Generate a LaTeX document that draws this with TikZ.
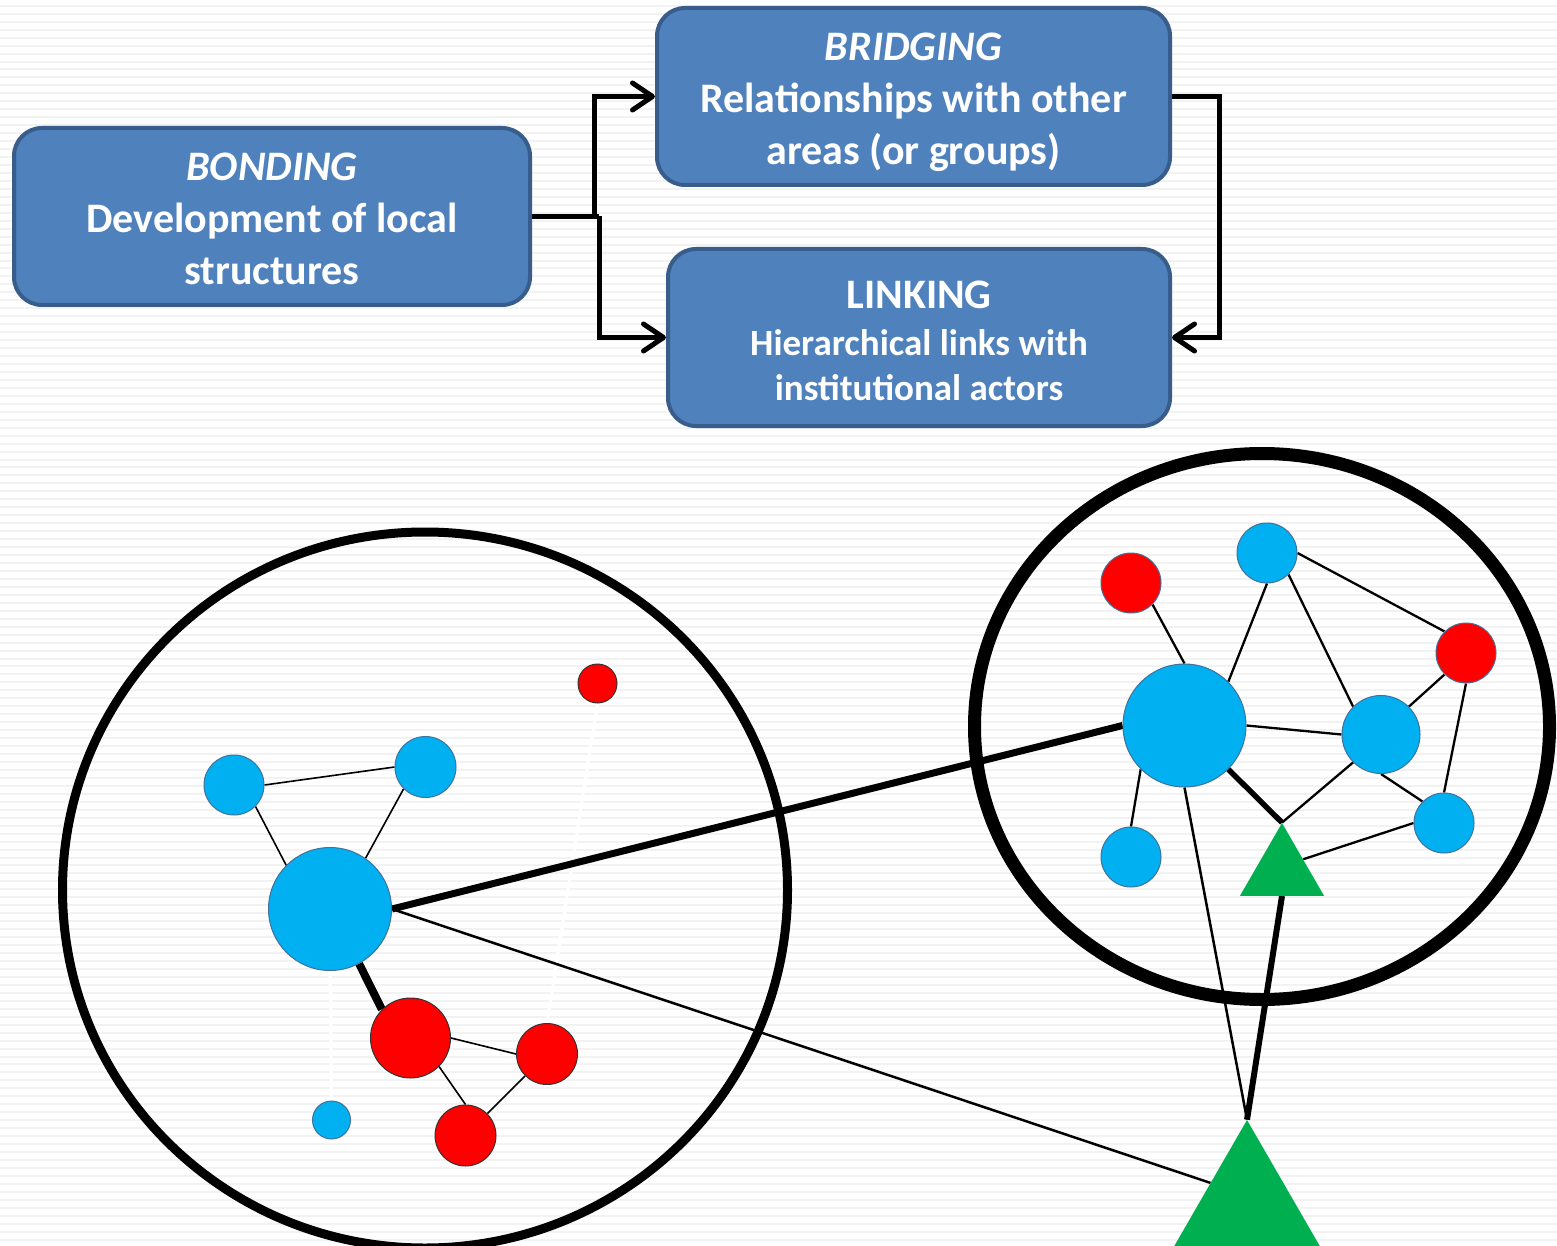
\documentclass[tikz,border=0pt]{standalone}
\usepackage{fontspec}
\setmainfont{Carlito}
\usetikzlibrary{arrows.meta,shapes.geometric}
\definecolor{boxfill}{HTML}{4F81BD}
\definecolor{boxline}{HTML}{385D8A}
\definecolor{dotblue}{HTML}{00B0F0}
\definecolor{dotedge}{HTML}{41719C}
\definecolor{dotred}{HTML}{FF0000}
\definecolor{leaf}{HTML}{00B050}
\definecolor{ruling}{HTML}{F2F2F2}
\pgfdeclarelayer{back}
\pgfsetlayers{back,main}

\begin{document}
\begin{tikzpicture}[x=1pt,y=-1pt,
  panel/.style={draw=boxline, fill=boxfill, line width=4pt, rounded corners=28pt,
    inner sep=0pt, minimum height=177pt},
  paneltext/.style={text=white, align=center, inner sep=0pt,
    font=\bfseries\fontsize{42}{52}\selectfont},
  flow/.style={line width=5pt, -{Straight Barb[length=20pt,width=27pt,line cap=round,line join=round]}},
  bluedot/.style={circle, inner sep=0pt, fill=dotblue, draw=dotedge, line width=1pt},
  reddot/.style={circle, inner sep=0pt, fill=dotred, draw=black!80, line width=1pt},
  reddotb/.style={circle, inner sep=0pt, fill=dotred, draw=dotedge, line width=1pt},
  actor/.style={regular polygon, regular polygon sides=3, inner sep=0pt, fill=leaf, draw=none},
  tie/.style={line width=1.6pt},
  rtie/.style={line width=2.3pt},
  hidden/.style={line width=3pt, white},
  group/.style={draw=black},
]
\useasboundingbox (0,0) rectangle (1557,1246);
\begin{pgfonlayer}{back}
  \fill[white] (0,0) rectangle (1557,1246);
  % ruled paper
  \foreach \k in {0,...,157}
    \fill[ruling] (0,{4.8+7.96*\k}) rectangle (1557,{6.8+7.96*\k});
\end{pgfonlayer}

% ---------- the three forms of social capital ----------
\node[panel, minimum width=516pt] (bond) at (272,216.5) {};
\node[panel, minimum width=513pt] (bridge) at (913.5,96.5) {};
\node[panel, minimum width=502pt] (link) at (919,337.5) {};
\node[paneltext] (bondtext) at ([yshift=-2pt]bond.center)
  {\textit{BONDING}\\Development of local\\structures};
\node[paneltext] (bridgetext) at ([yshift=-5.5pt]bridge.center)
  {\textit{BRIDGING}\\Relationships with other\\areas (or groups)};
\node[paneltext, font=\bfseries\fontsize{37}{45}\selectfont] (linktext)
  at ([yshift=-3pt]link.center)
  {{\fontsize{42}{45}\selectfont LINKING}\\[2pt]Hierarchical links with\\institutional actors};

\coordinate (forkA) at (594,216.5);
\coordinate (forkB) at (599,216.5);
\coordinate (bendR) at (1219,216.5);
\draw[line width=5pt] (bond.east) -- (forkB);
\draw[flow] (bond.east) -- (forkA) |- (bridge.west);
\draw[flow] (forkB) |- (link.west);
\draw[flow] (bridge.east) -| (bendR) |- (link.east);

% ---------- local group (left) ----------
\node[bluedot, minimum size=123pt] (lhub) at (330,909) {};
\node[bluedot, minimum size=60pt] (lb1) at (234,785) {};
\node[bluedot, minimum size=61pt] (lb2) at (425.5,767) {};
\node[bluedot, minimum size=38pt] (lb3) at (331.5,1120) {};
\node[reddot, minimum size=39pt] (lr0) at (597.5,683.5) {};
\node[reddot, minimum size=80pt] (lr1) at (410.5,1038) {};
\node[reddot, minimum size=61pt] (lr2) at (547,1054) {};
\node[reddot, minimum size=61pt] (lr3) at (465.5,1135.5) {};

% ---------- neighbouring group (right) ----------
\node[bluedot, minimum size=123pt] (rhub) at (1184.5,725.5) {};
\node[reddotb, minimum size=60pt] (rr1) at (1131,583) {};
\node[bluedot, minimum size=60pt] (rb1) at (1267,553) {};
\node[reddotb, minimum size=60pt] (rr2) at (1466,653) {};
\node[bluedot, minimum size=78pt] (rb2) at (1381,734.5) {};
\node[bluedot, minimum size=60pt] (rb3) at (1444,823) {};
\node[bluedot, minimum size=60pt] (rb4) at (1131,857) {};
\node[actor, minimum size=97pt] (ga) at (1282,871.5) {};
\node[actor, minimum size=168pt] (gb) at (1247,1204) {};

% group outlines
\draw[group, line width=9pt] (425,890) ellipse [x radius=362.5, y radius=358];
\draw[group, line width=13pt] (1262,726.5) ellipse [x radius=287.5, y radius=273];

\begin{pgfonlayer}{back}
  % ties inside the local group
  \draw[hidden] (lhub.south) -- (lb3.north);
  \draw[hidden] (lr0.south) -- (lr2.north);
  \draw[tie] (lb1.east) -- (lb2.west);
  \draw[tie] (lb1.south east) -- (lhub.north west);
  \draw[tie] (lb2.south west) -- (lhub.55);
  \draw[line width=8pt] (lhub.-62) -- (lr1.north west);
  \draw[tie] (lr1.east) -- (lr2.west);
  \draw[tie] (lr1.south east) -- (lr3.north);
  \draw[tie] (lr2.south west) -- (lr3.north east);

  % ties across groups
  \draw[line width=7pt] (lhub.east) -- (rhub.west);
  \draw[line width=2.5pt] (lhub.east) -- (gb.side 1);

  % ties inside the neighbouring group
  \draw[rtie] (rr1.south east) -- (rhub.north);
  \draw[rtie] (rb1.south) -- (rhub.north east);
  \draw[rtie] (rb1.south east) -- (rb2.north west);
  \draw[rtie] (rb1.east) -- (rr2.north west);
  \draw[rtie] (rr2.south west) -- (rb2.north east);
  \draw[rtie] (rr2.south) -- (rb3.north);
  \draw[rtie] (rhub.east) -- (rb2.west);
  \draw[rtie] (rhub.south west) -- (rb4.north);
  \draw[rtie] (rb2.south) -- (rb3.north west);
  \draw[rtie] (rb3.west) -- (ga.side 3);
  \draw[rtie] (rb2.south west) -- (ga.corner 1);
  \draw[line width=5.5pt] (rhub.south east) -- (ga.corner 1);
  \draw[line width=2.5pt] (rhub.south) -- (gb.corner 1);
  \draw[line width=6pt] (ga.side 2) -- (gb.corner 1);
\end{pgfonlayer}
\end{tikzpicture}
\end{document}
